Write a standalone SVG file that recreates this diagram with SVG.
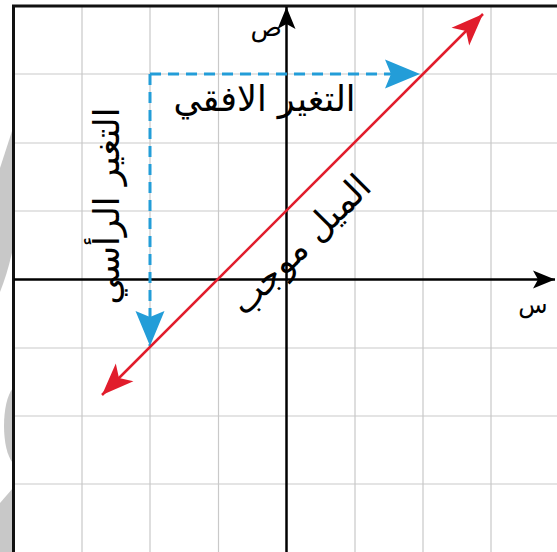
<svg xmlns="http://www.w3.org/2000/svg" width="557" height="552" viewBox="0 0 557 552">
<style>
.grid{stroke:#c9c9c9;stroke-width:1.2;fill:none}
.axis{stroke:#000;stroke-width:2.5;fill:none}
.frame{stroke:#111;stroke-width:3;fill:none}
.dash{stroke:#239dd8;stroke-width:3;stroke-dasharray:11 7;fill:none}
.red{stroke:#e11d2c;stroke-width:2.5;fill:none}
.lbl{font-family:"DejaVu Sans","Noto Sans",sans-serif;fill:#000}
.big{font-size:35px}
.wm{fill:#c8c8c8}
</style>
<defs>
<marker id="ak" markerUnits="userSpaceOnUse" viewBox="-24 -11 26 22" refX="0" refY="0" markerWidth="26" markerHeight="22" orient="auto"><path d="M0,0 L-22,-9 L-17,0 L-22,9 Z" fill="#000"/></marker>
<marker id="ab" markerUnits="userSpaceOnUse" viewBox="-37 -16 39 32" refX="0" refY="0" markerWidth="39" markerHeight="32" orient="auto"><path d="M0,0 L-35,-14.5 L-29,0 L-35,14.5 Z" fill="#239dd8"/></marker>
<marker id="ar" markerUnits="userSpaceOnUse" viewBox="-33 -14 35 28" refX="0" refY="0" markerWidth="35" markerHeight="28" orient="auto-start-reverse"><path d="M0,0 L-32,-12.5 L-24,0 L-32,12.5 Z" fill="#e11d2c"/></marker>
</defs>
<rect width="557" height="552" fill="#fff"/>
<g id="watermark">
<path class="wm" d="M0,168 L13,128 L13,248 Q8,272 0,292 Z"/>
<path class="wm" d="M13,388 C1,402 1,450 13,463 Z"/>
<path class="wm" d="M13,488 L13,552 L0,552 L0,503 Z"/>
</g>
<g id="grid">
<path class="grid" d="M82,6V552M150,6V552M218.5,6V552M355,6V552M423,6V552M491,6V552M14,74H557M14,143H557M14,211H557M14,348H557M14,416H557M14,484H557"/>
</g>
<g id="frame"><path class="frame" d="M13.5,552V6H557"/></g>
<g id="axes">
<line class="axis" x1="286.5" y1="552" x2="286.5" y2="7" marker-end="url(#ak)"/>
<line class="axis" x1="14" y1="279.5" x2="555" y2="279.5" marker-end="url(#ak)"/>
<text class="lbl" x="282" y="36" font-size="26" text-anchor="end">ص</text>
<text class="lbl" x="533" y="313" font-size="24" text-anchor="middle">س</text>
</g>
<g id="connectors">
<line class="dash" x1="150" y1="74" x2="420" y2="74" marker-end="url(#ab)"/>
<line class="dash" x1="150" y1="74" x2="150" y2="346" marker-end="url(#ab)"/>
<line class="red" x1="102" y1="395" x2="483" y2="14" marker-start="url(#ar)" marker-end="url(#ar)"/>
</g>
<g id="label-horizontal"><text class="lbl big" x="264.5" y="111" text-anchor="middle">التغير الافقي</text></g>
<g id="label-vertical"><text class="lbl big" transform="translate(119,206) rotate(-90)" text-anchor="middle">التغير الرأسي</text></g>
<g id="label-slope"><text class="lbl big" transform="translate(309,253) rotate(-45)" text-anchor="middle">الميل موجب</text></g>
</svg>
